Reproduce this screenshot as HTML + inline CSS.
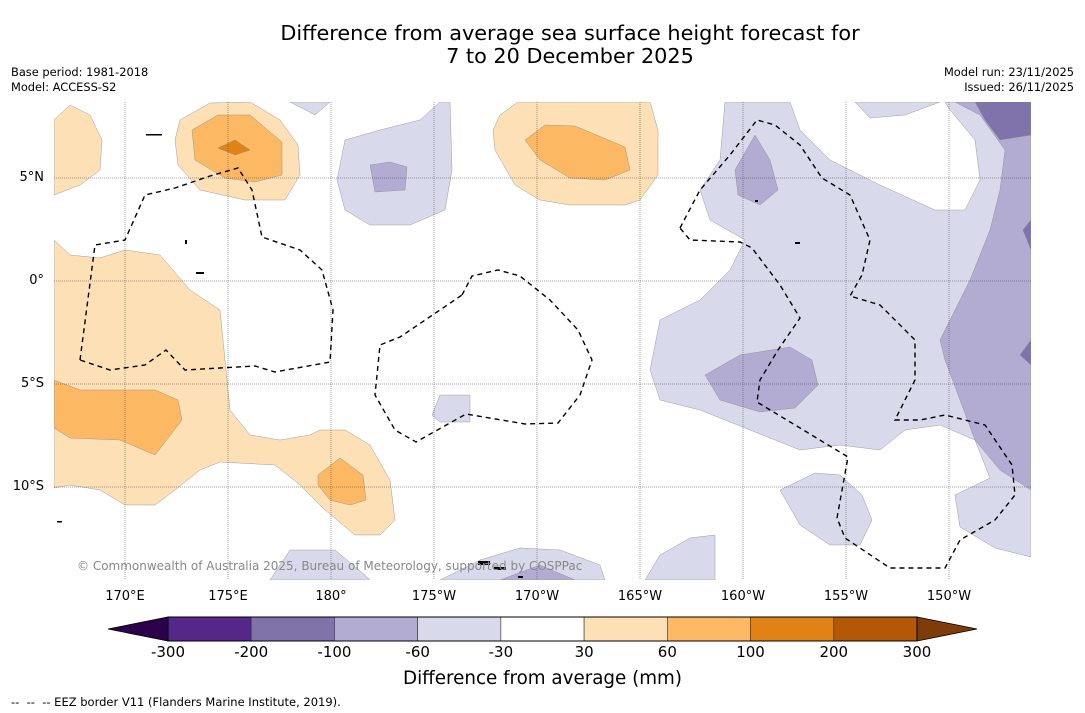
<!DOCTYPE html>
<html><head><meta charset="utf-8"><style>
body{margin:0;background:#fff;font-family:"DejaVu Sans","Liberation Sans",sans-serif}
#wrap{position:relative;width:1085px;height:713px;overflow:hidden;background:#fff}
.t{position:absolute;white-space:nowrap}
</style></head><body>
<div id="wrap">
<div class="t" style="left:0;width:1140px;top:22px;text-align:center;font-size:20.8px;line-height:23px;color:#000">Difference from average sea surface height forecast for<br>7 to 20 December 2025</div>
<div class="t" style="left:11px;top:65px;font-size:11.4px;line-height:15px">Base period: 1981-2018<br>Model: ACCESS-S2</div>
<div class="t" style="right:11px;top:65px;font-size:11.4px;line-height:15px;text-align:right">Model run: 23/11/2025<br>Issued: 26/11/2025</div>
<svg id="map" width="1085" height="713" style="position:absolute;left:0;top:0">
<defs><clipPath id="cp"><rect x="54" y="102" width="977" height="478"/></clipPath></defs>
<g clip-path="url(#cp)" stroke="#888" stroke-width="0.4">
<path fill="#d8daeb" d="M725,102 L790,102 L800,130 L830,160 L880,185 L935,210 L965,210 L980,180 L975,140 L950,110 L945,102 L1031,102 L1031,557 L995,548 L960,527 L955,495 L990,478 L975,440 L940,425 L905,430 L880,450 L840,445 L800,450 L750,430 L700,410 L660,400 L650,370 L660,320 L700,300 L730,270 L745,240 L710,220 L700,190 L720,160 Z"/>
<path fill="#d8daeb" d="M855,102 L870,118 L905,115 L940,102 Z"/>
<path fill="#d8daeb" d="M780,490 L815,473 L840,475 L862,495 L872,520 L860,545 L830,545 L800,525 Z"/>
<path fill="#b2abd2" d="M955,102 L1031,102 L1031,490 L1000,470 L975,440 L945,360 L940,340 L970,280 L990,230 L1000,190 L1005,150 L980,115 Z"/>
<path fill="#8073ac" d="M975,102 L1031,102 L1031,135 L1000,140 L985,120 Z"/>
<path fill="#8073ac" d="M1023,230 L1031,220 L1031,250 Z M1020,355 L1031,340 L1031,365 Z"/>
<path fill="#b2abd2" d="M705,375 L740,355 L790,347 L812,360 L818,385 L795,408 L760,412 L720,400 Z"/>
<path fill="#b2abd2" d="M735,170 L755,135 L770,160 L778,190 L760,205 L738,195 Z"/>
<path fill="#d8daeb" d="M345,140 L380,130 L420,120 L440,102 L450,102 L452,170 L445,210 L410,225 L370,225 L345,210 L337,180 Z"/>
<path fill="#b2abd2" d="M370,165 L390,162 L407,167 L405,190 L375,192 Z"/>
<path fill="#d8daeb" d="M290,102 L330,102 L315,115 Z"/>
<path fill="#d8daeb" d="M432,415 L440,395 L470,395 L470,422 L440,422 Z"/>
<path fill="#d8daeb" d="M270,580 L290,550 L335,550 L365,575 L370,580 Z"/>
<path fill="#d8daeb" d="M440,580 L480,560 L520,548 L560,550 L600,565 L605,580 Z"/>
<path fill="#b2abd2" d="M500,580 L540,565 L575,580 Z"/>
<path fill="#d8daeb" d="M645,580 L660,555 L690,538 L715,535 L715,580 Z"/>
<path fill="#fee0b6" d="M54,120 L70,105 L90,115 L102,140 L100,170 L80,185 L54,195 Z"/>
<path fill="#fee0b6" d="M180,120 L210,103 L250,102 L280,120 L298,145 L300,175 L285,200 L245,200 L200,190 L178,165 L175,140 Z"/>
<path fill="#fdb863" d="M192,130 L218,115 L250,115 L282,142 L282,175 L255,182 L225,178 L195,160 Z"/>
<path fill="#e08214" d="M218,148 L235,140 L250,150 L235,155 Z"/>
<path fill="#fee0b6" d="M500,115 L518,102 L650,102 L658,130 L658,175 L640,200 L625,205 L570,205 L540,200 L515,185 L495,150 L493,130 Z"/>
<path fill="#fdb863" d="M525,140 L545,125 L575,126 L625,147 L630,170 L605,180 L570,178 L540,160 Z"/>
<path fill="#fee0b6" d="M54,240 L70,255 L100,258 L125,250 L160,255 L190,290 L220,310 L225,360 L230,410 L250,435 L280,440 L310,435 L320,430 L345,430 L370,445 L390,480 L395,520 L380,535 L355,535 L325,510 L300,485 L275,465 L220,462 L200,470 L175,490 L155,505 L125,505 L100,490 L70,485 L54,488 Z"/>
<path fill="#fdb863" d="M54,380 L80,390 L155,390 L178,400 L182,420 L155,455 L120,440 L70,438 L54,428 Z"/>
<path fill="#fdb863" d="M318,475 L340,458 L363,475 L366,500 L350,505 L330,500 L318,485 Z"/>
</g>
<g id="grid" stroke="#444" stroke-width="0.5" stroke-dasharray="1,1"></g>
<g fill="none" stroke="#000" stroke-width="1.4" stroke-dasharray="5,4">
<path d="M80,360 L95,245 L125,240 L145,195 L175,188 L210,176 L238,168 L252,190 L262,237 L300,250 L322,270 L333,310 L330,362 L275,372 L255,366 L185,370 L166,350 L145,365 L110,370 L80,360"/>
<path d="M462,295 L472,276 L498,270 L520,276 L550,300 L578,330 L592,360 L580,395 L558,423 L525,424 L466,414 L416,442 L395,430 L375,395 L380,345 L400,337 L440,310 Z"/>
<path d="M680,228 L700,190 L730,155 L757,120 L775,125 L800,145 L822,178 L850,195 L870,240 L862,275 L850,296 L880,305 L915,340 L915,380 L895,420 L920,420 L945,415 L985,425 L1012,465 L1015,495 L995,520 L960,540 L945,568 L890,568 L845,538 L837,518 L848,457 L757,402 L760,380 L778,350 L800,318 L780,285 L752,248 L740,242 L690,240 Z"/>
</g>
<g id="land" fill="#000">
<rect x="146" y="134" width="16" height="1.5"/><rect x="185" y="240" width="2" height="4"/><rect x="196" y="272" width="8" height="2"/><rect x="478" y="561" width="12" height="4"/><rect x="494" y="567" width="12" height="3"/><rect x="795" y="242" width="5" height="2"/><rect x="57" y="521" width="5" height="1.5"/><rect x="755" y="200" width="3" height="2"/><rect x="518" y="576" width="5" height="2"/>
</g>
<g id="cbar"></g>
</svg>
<div class="t" style="left:77px;top:559px;font-size:12px;color:#888">© Commonwealth of Australia 2025, Bureau of Meteorology, supported by COSPPac</div>
<div id="ticks"></div>
<div class="t" style="left:0;width:1085px;text-align:center;top:668px;font-size:18.3px">Difference from average (mm)</div>
<div class="t" style="left:11px;top:695px;font-size:11.5px">-- &nbsp;-- &nbsp;-- EEZ border V11 (Flanders Marine Institute, 2019).</div>
</div>
<script>
const lonLabels=["170°E","175°E","180°","175°W","170°W","165°W","160°W","155°W","150°W"];
const lonValues=[170,175,180,185,190,195,200,205,210];
const latLabels=["5°N","0°","5°S","10°S"];
const latValues=[5,0,-5,-10];
const cbBounds=[-300,-200,-100,-60,-30,30,60,100,200,300];
const cbColors=["#542788","#8073ac","#b2abd2","#d8daeb","#ffffff","#fee0b6","#fdb863","#e08214","#b35806"];
const ns="http://www.w3.org/2000/svg";
const xLon=v=>125+(v-170)*20.6;
const yLat=v=>281-v*20.6;
const grid=document.getElementById('grid');
const W=document.getElementById('wrap');
lonValues.forEach((v,i)=>{
 const l=document.createElementNS(ns,'line');
 l.setAttribute('x1',xLon(v));l.setAttribute('x2',xLon(v));l.setAttribute('y1',102);l.setAttribute('y2',580);
 
 
 grid.appendChild(l);
 const d=document.createElement('div');d.className='t';
 d.style.cssText=`left:${xLon(v)-40}px;width:80px;text-align:center;top:589px;font-size:13px`;
 d.textContent=lonLabels[i];
 
 
 W.appendChild(d);
});
latValues.forEach((v,i)=>{
 const l=document.createElementNS(ns,'line');
 l.setAttribute('x1',54);l.setAttribute('x2',1031);l.setAttribute('y1',yLat(v));l.setAttribute('y2',yLat(v));
 
 
 grid.appendChild(l);
 const d=document.createElement('div');d.className='t';
 d.style.cssText=`right:${1085-44}px;top:${yLat(v)-8}px;font-size:13px;text-align:right`;
 d.textContent=latLabels[i];
 
 
 W.appendChild(d);
});
const cb=document.getElementById('cbar');
const x0=168,x1=917,y0=617,h=24,bw=(x1-x0)/cbColors.length;
cbColors.forEach((c,i)=>{
 const r=document.createElementNS(ns,'rect');
 r.setAttribute('x',x0+i*bw);r.setAttribute('y',y0);r.setAttribute('width',bw);r.setAttribute('height',h);
 r.setAttribute('fill',c);r.setAttribute('stroke','#333');r.setAttribute('stroke-width','0.6');
 
 
 cb.appendChild(r);
});
[[`${x0},${y0} ${x0},${y0+h} 108,${y0+h/2}`,'#2d004b'],[`${x1},${y0} ${x1},${y0+h} 977,${y0+h/2}`,'#7f3b08']].forEach(p=>{
 const g=document.createElementNS(ns,'polygon');g.setAttribute('points',p[0]);g.setAttribute('fill',p[1]);g.setAttribute('stroke','#000');g.setAttribute('stroke-width','0.8');
 
 
 cb.appendChild(g);
});
const o=document.createElementNS(ns,'rect');o.setAttribute('x',x0);o.setAttribute('y',y0);o.setAttribute('width',x1-x0);o.setAttribute('height',h);o.setAttribute('fill','none');o.setAttribute('stroke','#000');cb.appendChild(o);
cbBounds.forEach((b,i)=>{
 const d=document.createElement('div');d.className='t';
 d.style.cssText=`left:${x0+i*bw-40}px;width:80px;text-align:center;top:643px;font-size:15px`;
 d.textContent=b;
 
 
 W.appendChild(d);
});
</script>
</body></html>
